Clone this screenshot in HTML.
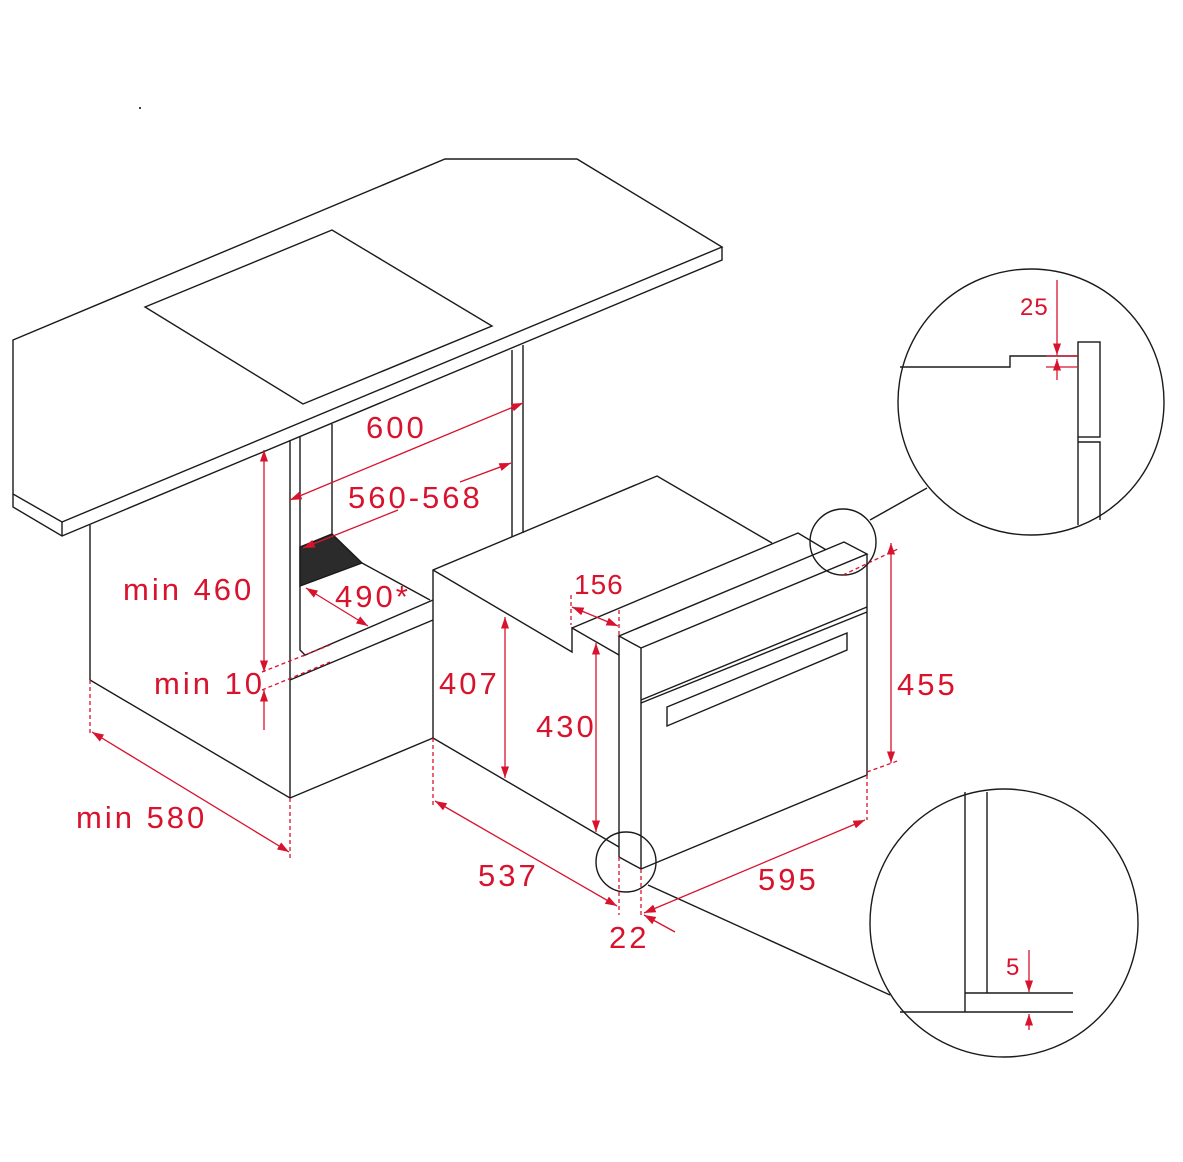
<!DOCTYPE html>
<html><head><meta charset="utf-8"><style>
html,body{margin:0;padding:0;background:#fff}
text{font-family:"Liberation Sans",sans-serif;fill:#d8132e;font-size:31px;letter-spacing:3px}
</style></head><body>
<svg width="1183" height="1157" viewBox="0 0 1183 1157" xmlns="http://www.w3.org/2000/svg">
<defs><marker id="a" viewBox="0 0 10 10" refX="10" refY="5" markerWidth="9" markerHeight="9" orient="auto-start-reverse"><path d="M0,1.5 L10,5 L0,8.5 z" fill="#d8132e"/></marker></defs>
<g fill="none" stroke="#1a1a1a" stroke-width="1.4">
<polygon points="13,340 445,159 577,159 722,247 62,522 13,494" fill="#fff"/>
<polyline points="722,247 722,260 62,536 13,507 13,494"/>
<line x1="62" y1="522" x2="62" y2="536"/>
<polygon points="145,307 332,230 492,326 303,404"/>
<line x1="90" y1="525" x2="90" y2="680"/>
<polyline points="90,680 290,798 433,738"/>
<line x1="290" y1="440" x2="290" y2="798"/>
<polyline points="300,437 300,650 305,655"/>
<line x1="332" y1="424" x2="332" y2="535"/>
<line x1="512" y1="350" x2="512" y2="537"/>
<line x1="523" y1="345" x2="523" y2="533"/>
<line x1="303" y1="656" x2="433" y2="600"/>
<line x1="290" y1="680" x2="433" y2="620"/>
<polygon points="300,547 332,534 362,563 300,586" fill="#2b2b2b"/>
<line x1="362" y1="563" x2="430" y2="600"/>
<polyline points="433,738 433,570 657,476 772,543"/>
<polyline points="433,570 572,652 572,628 619,655"/>
<polyline points="572,628 798,533 843,560"/>
<line x1="433" y1="738" x2="619" y2="847"/>
<polygon points="619,636 844,542 867,554 641,648" fill="#fff"/>
<line x1="619" y1="636" x2="619" y2="857"/>
<line x1="641" y1="648" x2="641" y2="869"/>
<polyline points="619,857 641,869 867,775 867,554"/>
<line x1="641" y1="700" x2="867" y2="607"/>
<line x1="641" y1="703" x2="867" y2="612"/>
<polygon points="667,707 847,633 847,650 667,726"/>
<circle cx="843" cy="542" r="33"/>
<line x1="870" y1="520" x2="927" y2="488"/>
<circle cx="1031" cy="402" r="133"/>
<polyline points="900,367 1010,367 1010,356 1078,356"/>
<rect x="1078" y="342" width="22" height="95"/>
<polyline points="1078,437 1078,525"/>
<polyline points="1078,442 1100,442 1100,520"/>
<circle cx="626" cy="862" r="30"/>
<line x1="648" y1="885" x2="890" y2="995"/>
<circle cx="1004" cy="923" r="134"/>
<line x1="965" y1="792" x2="965" y2="1012"/>
<line x1="987" y1="792" x2="987" y2="993"/>
<line x1="965" y1="993" x2="1073" y2="993"/>
<line x1="900" y1="1012" x2="1073" y2="1012"/>
</g>
<g stroke="#d8132e" stroke-width="1.3" fill="none">
<line x1="290" y1="500" x2="523" y2="403" marker-start="url(#a)" marker-end="url(#a)"/>
<line x1="398" y1="510" x2="303" y2="548" marker-end="url(#a)"/>
<line x1="460" y1="482" x2="511" y2="463" marker-end="url(#a)"/>
<line x1="306" y1="588" x2="368" y2="626" marker-start="url(#a)" marker-end="url(#a)"/>
<line x1="264" y1="450" x2="264" y2="672" marker-start="url(#a)" marker-end="url(#a)"/>
<line x1="264" y1="730" x2="264" y2="690" marker-end="url(#a)"/>
<line x1="262" y1="672" x2="330" y2="645" stroke-dasharray="4,3"/>
<line x1="262" y1="690" x2="330" y2="662" stroke-dasharray="4,3"/>
<line x1="90" y1="680" x2="90" y2="735" stroke-dasharray="4,3"/>
<line x1="290" y1="798" x2="290" y2="860" stroke-dasharray="4,3"/>
<line x1="92" y1="732" x2="289" y2="852" marker-start="url(#a)" marker-end="url(#a)"/>
<line x1="505" y1="617" x2="505" y2="778" marker-start="url(#a)" marker-end="url(#a)"/>
<line x1="596" y1="643" x2="596" y2="832" marker-start="url(#a)" marker-end="url(#a)"/>
<line x1="571" y1="595" x2="571" y2="625" stroke-dasharray="4,3"/>
<line x1="619" y1="610" x2="619" y2="636" stroke-dasharray="4,3"/>
<line x1="572" y1="607" x2="618" y2="626" marker-start="url(#a)" marker-end="url(#a)"/>
<line x1="433" y1="738" x2="433" y2="808" stroke-dasharray="4,3"/>
<line x1="619" y1="857" x2="619" y2="915" stroke-dasharray="4,3"/>
<line x1="641" y1="869" x2="641" y2="918" stroke-dasharray="4,3"/>
<line x1="435" y1="801" x2="617" y2="906" marker-start="url(#a)" marker-end="url(#a)"/>
<line x1="644" y1="913" x2="865" y2="820" marker-start="url(#a)" marker-end="url(#a)"/>
<line x1="867" y1="775" x2="867" y2="820" stroke-dasharray="4,3"/>
<line x1="675" y1="932" x2="644" y2="915" marker-end="url(#a)"/>
<line x1="891" y1="543" x2="891" y2="763" marker-start="url(#a)" marker-end="url(#a)"/>
<line x1="843" y1="575" x2="900" y2="548" stroke-dasharray="4,3"/>
<line x1="867" y1="772" x2="900" y2="760" stroke-dasharray="4,3"/>
<line x1="1057" y1="280" x2="1057" y2="355" marker-end="url(#a)"/>
<line x1="1057" y1="380" x2="1057" y2="359" marker-end="url(#a)"/>
<line x1="1046" y1="356" x2="1078" y2="356"/>
<line x1="1046" y1="367" x2="1078" y2="367"/>
<line x1="1029" y1="950" x2="1029" y2="992" marker-end="url(#a)"/>
<line x1="1029" y1="1030" x2="1029" y2="1014" marker-end="url(#a)"/>
</g>
<text x="366" y="438">600</text>
<text x="348" y="508">560-568</text>
<text x="335" y="607">490*</text>
<text x="123" y="600">min 460</text>
<text x="154" y="694">min 10</text>
<text x="76" y="828">min 580</text>
<text x="439" y="694">407</text>
<text x="536" y="737">430</text>
<text x="574" y="594" style="font-size:28px;letter-spacing:1px">156</text>
<text x="478" y="886">537</text>
<text x="758" y="890">595</text>
<text x="609" y="948">22</text>
<text x="897" y="695">455</text>
<text x="1020" y="315" style="font-size:24px;letter-spacing:1px">25</text>
<text x="1006" y="975" style="font-size:24px">5</text>
<circle cx="140" cy="108" r="1" fill="#000"/>
</svg>
</body></html>
